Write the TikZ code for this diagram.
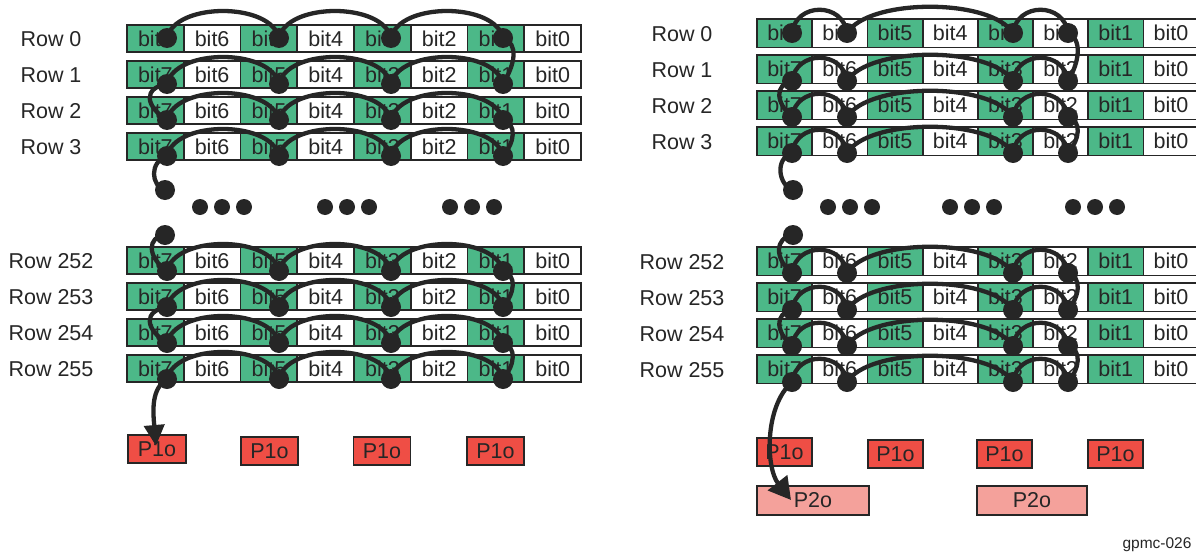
\documentclass[tikz,border=0pt]{standalone}
\usepackage{fontspec}
\setmainfont{Liberation Sans}
\usetikzlibrary{arrows.meta}
\definecolor{bitgreen}{RGB}{76,184,136}
\definecolor{pred}{RGB}{239,78,69}
\definecolor{ppink}{RGB}{244,161,155}
\definecolor{inkgray}{RGB}{38,38,38}
\begin{document}
\begin{tikzpicture}[x=1pt,y=-1pt]
  \tikzset{bit node/.style={draw=inkgray, line width=1.8pt, inner sep=0pt, text=inkgray, font=\fontsize{21.5}{24}\selectfont},
    row label/.style={text=inkgray, inner sep=0pt, font=\fontsize{21.5}{24}\selectfont},
    dot node/.style={circle, fill=inkgray, minimum size=20pt, inner sep=0pt},
    gap dot/.style={circle, fill=inkgray, minimum size=16pt, inner sep=0pt},
    link line/.style={draw=inkgray, line width=4.3pt},
    p1 node/.style={bit node, fill=pred, minimum height=28pt},
    p2 node/.style={bit node, fill=ppink, minimum height=29pt}}
  \useasboundingbox (0,0) rectangle (1196,554);

  % left panel: rows of bits
  \foreach \r/\t in {0/25,1/61,2/97,3/133,252/247,253/283,254/319,255/355} {
    \node[row label] (rowL\r) at (51,\t+14) {Row \r};
    \foreach \i in {0,...,7} {
      \pgfmathtruncatemacro{\b}{7-\i}
      \ifodd\b \def\cellfill{bitgreen}\else \def\cellfill{white}\fi
      \node[bit node, fill=\cellfill, minimum width=56.75pt, minimum height=27pt] (cL\r-\b) at (155.375+56.75*\i,\t+13.5) {bit\b};
    }
  }
  % right panel: rows of bits
  \foreach \r/\t in {0/19,1/55,2/91,3/127,252/247,253/283,254/319,255/355} {
    \node[row label] (rowR\r) at (682,\t+15) {Row \r};
    \foreach \i in {0,...,7} {
      \pgfmathtruncatemacro{\b}{7-\i}
      \ifodd\b \def\cellfill{bitgreen}\else \def\cellfill{white}\fi
      \node[bit node, fill=\cellfill, minimum width=55.2pt, minimum height=28.5pt] (cR\r-\b) at (784.6+55.2*\i,\t+14.25) {bit\b};
    }
  }

  % dots
  \foreach \r/\y in {0/38,1/84,2/120,3/156,252/271,253/307,254/343,255/379}
    \foreach \j in {1,...,4}
      \node[dot node] (dL\r-\j) at (55+112*\j,\y) {};
  \foreach \r/\y in {0/33,1/81,2/117,3/153,252/273,253/310,254/346,255/382}
    \foreach \j/\x in {1/792,2/847,3/1013,4/1068}
      \node[dot node] (dR\r-\j) at (\x,\y) {};
  \node[dot node] (eL1) at (165,190) {};
  \node[dot node] (eL2) at (165,235) {};
  \node[dot node] (eR1) at (793,190) {};
  \node[dot node] (eR2) at (793,235) {};
  \foreach \g/\x in {1/222,2/347,3/472,4/850,5/972,6/1095}
    \foreach \k in {-1,0,1}
      \node[gap dot] (gap\g\k) at (\x+22*\k,207) {};

  % arcs along each row
  \foreach \r in {0,1,2,3,252,253,254,255} {
    \foreach \j/\k in {1/2,2/3,3/4}
      \draw[link line] (dL\r-\j.center) .. controls +(8,-36) and +(-8,-36) .. (dL\r-\k.center);
    \draw[link line] (dR\r-1.center) .. controls +(4,-31) and +(-4,-31) .. (dR\r-2.center);
    \draw[link line] (dR\r-2.center) .. controls +(22,-35) and +(-22,-35) .. (dR\r-3.center);
    \draw[link line] (dR\r-3.center) .. controls +(4,-31) and +(-4,-31) .. (dR\r-4.center);
  }

  % turns between rows, left panel
  \draw[link line] (dL0-4.center) .. controls +(16,6) and +(12,-20) .. (dL1-4.center);
  \draw[link line] (dL1-1.center) .. controls +(-24,4) and +(-22,-14) .. (dL2-1.center);
  \draw[link line] (dL2-4.center) .. controls +(14,4) and +(12,-14) .. (dL3-4.center);
  \draw[link line] (dL3-1.center) .. controls +(-18,6) and +(-14,-4) .. (eL1.center);
  \draw[link line] (eL2.center) .. controls +(-18,2) and +(-20,-14) .. (dL252-1.center);
  \draw[link line] (dL252-4.center) .. controls +(14,4) and +(12,-14) .. (dL253-4.center);
  \draw[link line] (dL253-1.center) .. controls +(-24,4) and +(-22,-14) .. (dL254-1.center);
  \draw[link line] (dL254-4.center) .. controls +(14,4) and +(12,-14) .. (dL255-4.center);
  % turns between rows, right panel
  \draw[link line] (dR0-4.center) .. controls +(14,6) and +(12,-20) .. (dR1-4.center);
  \draw[link line] (dR1-1.center) .. controls +(-18,4) and +(-16,-14) .. (dR2-1.center);
  \draw[link line] (dR2-4.center) .. controls +(14,4) and +(12,-14) .. (dR3-4.center);
  \draw[link line] (dR3-1.center) .. controls +(-18,6) and +(-14,-4) .. (eR1.center);
  \draw[link line] (eR2.center) .. controls +(-18,2) and +(-18,-14) .. (dR252-1.center);
  \draw[link line] (dR252-4.center) .. controls +(14,4) and +(12,-14) .. (dR253-4.center);
  \draw[link line] (dR253-1.center) .. controls +(-18,4) and +(-16,-14) .. (dR254-1.center);
  \draw[link line] (dR254-4.center) .. controls +(14,4) and +(12,-14) .. (dR255-4.center);

  % output pixels
  \node[p1 node, minimum width=58pt] (p1L1) at (157,449) {P1o};
  \node[p1 node, minimum width=57pt] (p1L2) at (269.5,451) {P1o};
  \node[p1 node, minimum width=57pt] (p1L3) at (382,451) {P1o};
  \node[p1 node, minimum width=57pt] (p1L4) at (495.5,451) {P1o};
  \node[p1 node, minimum width=55pt] (p1R1) at (784.5,452) {P1o};
  \node[p1 node, minimum width=55pt] (p1R2) at (895.5,454) {P1o};
  \node[p1 node, minimum width=55pt] (p1R3) at (1004.5,454) {P1o};
  \node[p1 node, minimum width=55pt] (p1R4) at (1115.5,454) {P1o};
  \node[p2 node, minimum width=112pt] (p2R1) at (813,500.5) {P2o};
  \node[p2 node, minimum width=110pt] (p2R2) at (1032,500.5) {P2o};

  \coordinate (tipL) at (156,446);
  \coordinate (tipR) at (791,500);
  \draw[link line, -{Triangle[length=21pt,width=20pt]}] (dL255-1.center) .. controls +(-16,10) and +(-3,-35) .. (tipL);
  \draw[link line, -{Triangle[length=22pt,width=24pt]}] (dR255-1.center) .. controls +(-28,25) and +(-25,-32) .. (tipR);

  \node[text=inkgray, font=\fontsize{15.5}{18}\selectfont] (figid) at (1157,545) {gpmc-026};
\end{tikzpicture}
\end{document}
